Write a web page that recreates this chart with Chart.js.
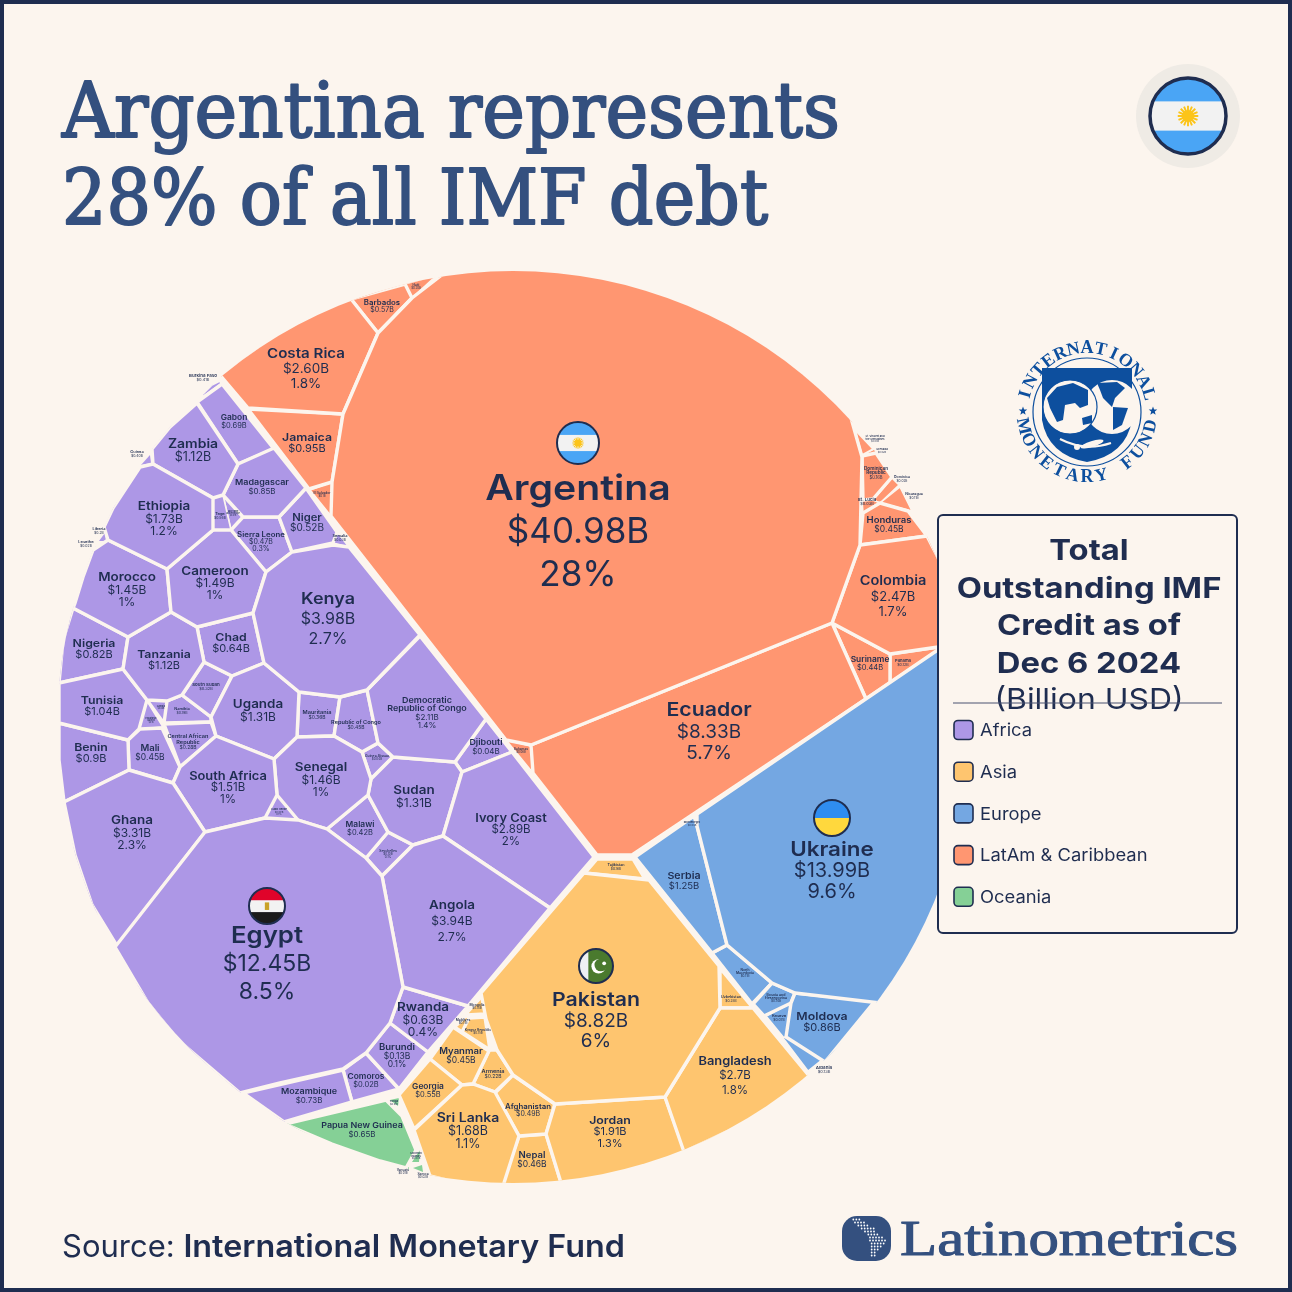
<!DOCTYPE html>
<html>
<head>
<meta charset="utf-8">
<title>Argentina represents 28% of all IMF debt</title>
<script src="https://cdn.jsdelivr.net/npm/chart.js@4"></script>
<style>
  html, body { margin: 0; padding: 0; background: #fcf5ee; }
  canvas { display: block; }
</style>
</head>
<body>
<canvas id="imfChart" width="1292" height="1292"></canvas>
<script>
// ── DATA ────────────────────────────────────────────────
const regionNames = ['Africa', 'Asia', 'Europe', 'LatAm & Caribbean', 'Oceania'];
const regionColors = ['#ad97e6', '#fec56f', '#74a7e2', '#ff9671', '#85d096'];

const africaNames = ['Egypt', 'Kenya', 'Angola', 'Ghana', 'Ivory Coast', 'Democratic Republic of Congo', 'Ethiopia', 'South Africa', 'Cameroon', 'Senegal', 'Morocco', 'Sudan', 'Uganda', 'Zambia', 'Tanzania', 'Tunisia', 'Benin', 'Madagascar', 'Nigeria', 'Gabon', 'Chad', 'Rwanda', 'Togo', 'Niger', 'Sierra Leone', 'Mali', 'Republic of Congo', 'Malawi', 'Burkina Faso', 'Guinea', 'Mauritania', 'South Sudan', 'Central African Republic', 'Liberia', 'Namibia', 'Mozambique', 'Burundi', 'Seychelles', 'Equatorial Guinea', 'Cabo Verde', 'Gambia', 'Djibouti', 'Guinea-Bissau', 'Somalia', 'Comoros', 'Lesotho', 'Sao Tome and Principe'];
const africaAmounts = ['$12.45B', '$3.98B', '$3.94B', '$3.31B', '$2.89B', '$2.11B', '$1.73B', '$1.51B', '$1.49B', '$1.46B', '$1.45B', '$1.31B', '$1.31B', '$1.12B', '$1.12B', '$1.04B', '$0.9B', '$0.85B', '$0.82B', '$0.69B', '$0.64B', '$0.63B', '$0.56B', '$0.52B', '$0.47B', '$0.45B', '$0.45B', '$0.42B', '$0.41B', '$0.40B', '$0.36B', '$0.32B', '$0.28B', '$0.2B', '$0.19B', '$0.73B', '$0.13B', '$0.10B', '$0.1B', '$0.09B', '$0.08B', '$0.04B', '$0.04B', '$0.03B', '$0.02B', '$0.02B', '$0.01B'];
const africaShares = ['8.5%', '2.7%', '2.7%', '2.3%', '2%', '1.4%', '1.2%', '1%', '1%', '1%', '1%', '', '', '', '', '', '', '', '', '', '', '0.4%', '', '', '0.3%', '', '', '', '', '', '', '', '', '', '', '', '0.1%', '0.1%', '', '0.1%', '', '', '', '', '', '', ''];

const asiaNames = ['Pakistan', 'Bangladesh', 'Jordan', 'Sri Lanka', 'Georgia', 'Afghanistan', 'Nepal', 'Myanmar', 'Uzbekistan', 'Armenia', 'Tajikistan', 'Kyrgyz Republic', 'Mongolia', 'Maldives'];
const asiaAmounts = ['$8.82B', '$2.7B', '$1.91B', '$1.68B', '$0.55B', '$0.49B', '$0.46B', '$0.45B', '$0.28B', '$0.22B', '$0.16B', '$0.15B', '$0.14B', '$0.11B'];
const asiaShares = ['6%', '1.8%', '1.3%', '1.1%', '', '', '', '', '', '', '', '', '', ''];

const europeNames = ['Ukraine', 'Serbia', 'Moldova', 'Bosnia and Herzegovina', 'Albania', 'North Macedonia', 'Kosovo', 'Montenegro'];
const europeAmounts = ['$13.99B', '$1.25B', '$0.86B', '$0.14B', '$0.13B', '$0.11B', '$0.07B', '$0.04B'];
const europeShares = ['9.6%', '', '', '', '', '', '', ''];

const latamNames = ['Argentina', 'Ecuador', 'Costa Rica', 'Colombia', 'Jamaica', 'Barbados', 'Honduras', 'Suriname', 'Haiti', 'Dominican Republic', 'Panama', 'Nicaragua', 'El Salvador', 'Bahamas', 'St. Lucia', 'St. Vincent', 'Dominica', 'Grenada'];
const latamAmounts = ['$40.98B', '$8.33B', '$2.60B', '$2.47B', '$0.95B', '$0.57B', '$0.45B', '$0.44B', '$0.20B', '$0.16B', '$0.12B', '$0.11B', '$0.1B', '$0.06B', '$0.03B', '$0.03B', '$0.02B', '$0.02B'];
const latamShares = ['28%', '5.7%', '1.8%', '1.7%', '', '', '', '', '', '', '', '', '', '', '', '', '', ''];

const oceaniaNames = ['Papua New Guinea', 'Solomon Islands', 'Samoa', 'Tonga', 'Vanuatu'];
const oceaniaAmounts = ['$0.65B', '$0.03B', '$0.02B', '$0.01B', '$0.01B'];
const oceaniaShares = ['', '', '', '', ''];

// Cell outlines, in the chart's 0-1292 units
const cellOutlines = {
  'Egypt': [[205,832],[265,818],[298,820],[327,829],[366,858],[382,876],[403,987],[390,1023],[366,1053],[343,1069],[280,1083],[240,1093],[178,1040],[148,1003],[115,947]],
  'Kenya': [[266,572],[292,552],[333,545],[349,547],[420,635],[367,690],[340,697],[299,692],[264,663],[253,613]],
  'Angola': [[413,845],[443,836],[550,908],[468,1006],[403,987],[382,876]],
  'Ghana': [[64,802],[129,770],[173,783],[205,832],[117,946],[92,905],[75,855]],
  'Ivory Coast': [[462,772],[512,752],[594,857],[550,908],[443,836]],
  'Democratic Republic of Congo': [[420,636],[486,719],[455,762],[393,757],[378,743],[367,690]],
  'Ethiopia': [[153,464],[213,498],[213,530],[167,569],[108,540],[104,527],[113,508],[140,467]],
  'South Africa': [[216,736],[274,759],[277,795],[265,818],[205,832],[173,783],[180,767]],
  'Cameroon': [[213,530],[231,530],[266,572],[253,613],[197,627],[171,612],[167,569]],
  'Senegal': [[274,759],[297,737],[334,736],[362,752],[371,779],[368,795],[327,829],[298,820],[277,795]],
  'Morocco': [[108,540],[167,569],[171,612],[128,637],[73,608],[75,603],[83,577],[93,550]],
  'Sudan': [[393,757],[455,762],[462,772],[443,836],[413,845],[388,832],[368,795],[371,779]],
  'Uganda': [[232,676],[264,663],[299,692],[297,737],[274,759],[216,736],[211,717]],
  'Zambia': [[197,403],[238,464],[223,495],[213,498],[153,464],[152,449],[170,427]],
  'Tanzania': [[128,637],[171,612],[197,627],[204,662],[182,695],[167,701],[147,700],[123,669]],
  'Tunisia': [[59,683],[123,669],[147,700],[139,729],[128,740],[59,723]],
  'Benin': [[59,723],[128,740],[129,770],[64,802],[59,760]],
  'Madagascar': [[238,464],[274,448],[306,488],[279,517],[243,517],[223,495]],
  'Nigeria': [[73,608],[128,637],[123,669],[59,683],[63,640]],
  'Gabon': [[197,402],[222,384],[274,449],[238,464]],
  'Chad': [[197,627],[253,613],[264,663],[232,676],[204,662]],
  'Rwanda': [[390,1023],[403,987],[468,1006],[428,1052]],
  'Togo': [[213,498],[223,495],[231,530],[213,530]],
  'Niger': [[306,488],[337,532],[333,543],[292,552],[279,517]],
  'Sierra Leone': [[243,517],[279,517],[292,552],[266,572],[231,530]],
  'Mali': [[140,729],[162,728],[180,767],[173,783],[129,770],[128,740]],
  'Republic of Congo': [[340,697],[367,690],[378,743],[362,752],[334,736]],
  'Malawi': [[368,795],[388,832],[366,858],[327,829]],
  'Burkina Faso': [[201,396],[212,385],[220,381],[221,384],[204,396]],
  'Guinea': [[141,465],[150,455],[151,463]],
  'Mauritania': [[299,692],[340,697],[334,736],[297,737]],
  'South Sudan': [[204,662],[232,676],[211,717],[182,695]],
  'Central African Republic': [[164,724],[211,722],[216,736],[180,767]],
  'Liberia': [[99,541],[105,533],[106,541]],
  'Namibia': [[167,701],[182,695],[211,717],[211,722],[164,723]],
  'Mozambique': [[243,1093],[343,1070],[352,1102],[284,1122]],
  'Burundi': [[366,1053],[390,1023],[428,1052],[399,1089]],
  'Seychelles': [[388,832],[413,845],[382,876],[366,858]],
  'Equatorial Guinea': [[147,701],[163,727],[139,729]],
  'Cabo Verde': [[277,795],[298,820],[265,818]],
  'Gambia': [[148,700],[167,701],[164,722]],
  'Djibouti': [[486,719],[512,752],[462,772],[455,762]],
  'Guinea-Bissau': [[378,743],[393,757],[371,779],[362,752]],
  'Somalia': [[337,532],[349,547],[333,543]],
  'Comoros': [[343,1070],[366,1053],[399,1089],[352,1102]],
  'Lesotho': [[95,548],[96,546],[97,548]],
  'Sao Tome and Principe': [[223,495],[243,517],[231,530]],

  'Pakistan': [[584,873],[649,880],[719,966],[720,1008],[665,1097],[555,1104],[513,1075],[497,1050],[486,1019],[481,993]],
  'Bangladesh': [[720,1008],[753,1008],[810,1077],[752,1120],[684,1152],[665,1097]],
  'Jordan': [[555,1104],[665,1097],[686,1155],[620,1175],[562,1186],[546,1134]],
  'Sri Lanka': [[462,1085],[473,1084],[495,1092],[519,1136],[503,1186],[470,1186],[430,1176],[414,1130]],
  'Georgia': [[430,1059],[462,1085],[414,1129],[399,1095]],
  'Afghanistan': [[495,1093],[513,1075],[555,1104],[546,1134],[519,1136]],
  'Nepal': [[519,1136],[546,1134],[562,1186],[501,1186]],
  'Myanmar': [[453,1027],[489,1051],[473,1084],[462,1085],[430,1059]],
  'Uzbekistan': [[720,968],[753,1008],[720,1008]],
  'Armenia': [[489,1050],[497,1050],[513,1075],[495,1092],[473,1084]],
  'Tajikistan': [[597,859],[633,859],[645,879],[585,873]],
  'Kyrgyz Republic': [[469,1018],[485,1017],[490,1050],[462,1032]],
  'Mongolia': [[467,1014],[484,995],[485,1013]],
  'Maldives': [[456,1027],[466,1017],[470,1018],[462,1031]],

  'Ukraine': [[697,814],[945,645],[990,727],[960,900],[880,1003],[795,993],[772,983],[727,945],[697,826]],
  'Serbia': [[635,857],[694,816],[697,826],[727,945],[712,953]],
  'Moldova': [[795,993],[875,1001],[825,1062],[786,1037],[791,1003]],
  'Bosnia and Herzegovina': [[772,983],[795,993],[791,1003],[764,1016],[753,1004]],
  'Albania': [[785,1037],[823,1059],[808,1071],[783,1038]],
  'North Macedonia': [[727,945],[772,983],[752,1004],[712,953]],
  'Kosovo': [[766,1016],[791,1003],[786,1037],[784,1038]],
  'Montenegro': [[693,818],[697,816],[697,826],[696,826]],

  'Argentina': [[447,271],[412,298],[378,333],[343,414],[332,482],[331,516],[506,740],[531,745],[832,623],[860,545],[862,457],[851,418],[842,398],[745,324],[633,278],[513,262]],
  'Ecuador': [[531,745],[832,623],[866,699],[632,855],[597,855],[533,773]],
  'Costa Rica': [[220,375],[246,355],[283,329],[330,306],[351,299],[378,333],[343,414],[248,408]],
  'Colombia': [[860,545],[927,536],[960,600],[945,646],[890,654],[832,623]],
  'Jamaica': [[248,409],[343,414],[332,482],[309,489]],
  'Barbados': [[351,299],[405,284],[412,298],[378,333]],
  'Honduras': [[863,513],[880,503],[908,511],[927,536],[860,545]],
  'Suriname': [[832,623],[890,654],[890,683],[866,699]],
  'Haiti': [[405,284],[437,275],[412,298]],
  'Dominican Republic': [[862,456],[876,453],[892,477],[873,499],[863,500]],
  'Panama': [[890,654],[945,646],[890,683]],
  'Nicaragua': [[880,503],[900,487],[912,511]],
  'El Salvador': [[310,490],[332,482],[331,516]],
  'Bahamas': [[506,740],[531,746],[533,773]],
  'St. Lucia': [[862,500],[873,500],[880,503],[863,513]],
  'St. Vincent': [[855,430],[873,449],[862,455]],
  'Dominica': [[873,500],[892,478],[899,485],[880,503]],
  'Grenada': [[862,456],[874,450],[876,453]],

  'Papua New Guinea': [[285,1124],[386,1100],[402,1116],[416,1150],[406,1168],[380,1161],[332,1144]],
  'Solomon Islands': [[412,1162],[420,1150],[419,1162]],
  'Samoa': [[413,1168],[422,1165],[423,1172]],
  'Tonga': [[390,1100],[399,1098],[398,1106]],
  'Vanuatu': [[407,1168],[409,1167],[409,1169]]
};

// Where each label block sits: centre x, centre y, type size
const labelSpots = {
  'Egypt': [267,964,23], 'Kenya': [328,619,16], 'Angola': [452,921,12], 'Ghana': [132,833,12],
  'Ivory Coast': [511,830,11.5], 'Democratic Republic of Congo': [427,713,8], 'Ethiopia': [164,519,12],
  'South Africa': [228,788,11.5], 'Cameroon': [215,583,12], 'Senegal': [321,780,12], 'Morocco': [127,590,12],
  'Sudan': [414,797,12], 'Uganda': [258,711,12], 'Zambia': [193,451,12.5], 'Tanzania': [164,660,11],
  'Tunisia': [102,706,11], 'Benin': [91,753,11], 'Madagascar': [262,487,8], 'Nigeria': [94,649,11],
  'Gabon': [234,422,7.5], 'Chad': [231,643,11], 'Rwanda': [423,1020,12], 'Togo': [220,516,3.5],
  'Niger': [307,523,10], 'Sierra Leone': [261,542,7], 'Mali': [150,753,8.5], 'Republic of Congo': [356,725,5],
  'Malawi': [360,829,7.5], 'Burkina Faso': [203,378,4], 'Guinea': [137,454,3.5], 'Mauritania': [317,715,5],
  'South Sudan': [206,687,4], 'Central African Republic': [188,742,5], 'Liberia': [99,531,3.5], 'Namibia': [182,711,3.5],
  'Mozambique': [309,1096,8], 'Burundi': [397,1056,8.5], 'Seychelles': [388,854,3], 'Equatorial Guinea': [151,720,2],
  'Cabo Verde': [279,812,2.5], 'Gambia': [161,707,2], 'Djibouti': [486,747,8], 'Guinea-Bissau': [377,758,3],
  'Somalia': [340,538,3.5], 'Comoros': [366,1081,7.5], 'Lesotho': [86,544,3.5], 'Sao Tome and Principe': [233,513,2],

  'Pakistan': [596,1021,19], 'Bangladesh': [735,1076,11.5], 'Jordan': [610,1132,11], 'Sri Lanka': [468,1131,12.5],
  'Georgia': [428,1091,7.5], 'Afghanistan': [528,1110,7], 'Nepal': [532,1160,8.5], 'Myanmar': [461,1056,8.5],
  'Uzbekistan': [731,999,3.3], 'Armenia': [493,1074,5], 'Tajikistan': [616,867,3.3], 'Kyrgyz Republic': [478,1032,3],
  'Mongolia': [477,1007,3], 'Maldives': [463,1022,3],

  'Ukraine': [832,871,20], 'Serbia': [684,881,9.5], 'Moldova': [822,1022,11], 'Bosnia and Herzegovina': [776,998,3.2],
  'Albania': [824,1070,4], 'North Macedonia': [745,973,3], 'Kosovo': [779,1018,3.5], 'Montenegro': [692,824,2.5],

  'Argentina': [578,532,35], 'Ecuador': [709,732,19], 'Costa Rica': [306,369,13.5], 'Colombia': [893,597,13],
  'Jamaica': [307,443,11], 'Barbados': [382,306,7], 'Honduras': [889,525,8.5], 'Suriname': [870,664,7.5],
  'Haiti': [416,287,2.8], 'Dominican Republic': [876,473,4.2], 'Panama': [903,663,3.7], 'Nicaragua': [914,496,3.2],
  'El Salvador': [322,495,2.8], 'Bahamas': [521,751,2.8], 'St. Lucia': [867,502,4], 'St. Vincent': [875,439,2.3],
  'Dominica': [902,479,3.2], 'Grenada': [882,451,2.5],

  'Papua New Guinea': [362,1130,8], 'Solomon Islands': [416,1156,2.5], 'Samoa': [423,1176,3], 'Tonga': [394,1103,2.5], 'Vanuatu': [403,1172,2.8]
};

// Line spacing where a label block is looser than its type size
const labelSteps = {
  'Argentina': 43, 'Egypt': 28, 'Ukraine': 21, 'Pakistan': 20.5, 'Ecuador': 21.5, 'Kenya': 20,
  'Angola': 16, 'Costa Rica': 15, 'Colombia': 15.5, 'Bangladesh': 14.5, 'Uganda': 13, 'Sudan': 13,
  'Ethiopia': 12.5, 'Ghana': 12.5, 'Senegal': 12.5, 'Cameroon': 12
};

const nameBreaks = {
  'Democratic Republic of Congo': ['Democratic', 'Republic of Congo'],
  'Central African Republic': ['Central African', 'Republic'],
  'Dominican Republic': ['Dominican', 'Republic'],
  'North Macedonia': ['North', 'Macedonia'],
  'Bosnia and Herzegovina': ['Bosnia and', 'Herzegovina'],
  'Solomon Islands': ['Solomon', 'Islands'],
  'St. Vincent': ['St. Vincent and', 'the Grenadines'],
  'Sao Tome and Principe': ['Sao Tome', 'and Principe'],
  'Equatorial Guinea': ['Equatorial', 'Guinea']
};

const legendTitle = ['Total', 'Outstanding IMF', 'Credit as of', 'Dec 6 2024'];
const legendUnit = '(Billion USD)';

// ── LOOK ────────────────────────────────────────────────
const CREAM = '#fcf5ee';
const NAVY = '#1f2d50';
const SLATE = '#34507f';
const LABEL_FONT = 'Inter, "Noto Sans", sans-serif';
const TITLE_FONT = '"DejaVu Serif", serif';
const CENTER_X = 513, CENTER_Y = 727, RADIUS = 456;

const groups = [
  [africaNames, africaAmounts, africaShares],
  [asiaNames, asiaAmounts, asiaShares],
  [europeNames, europeAmounts, europeShares],
  [latamNames, latamAmounts, latamShares],
  [oceaniaNames, oceaniaAmounts, oceaniaShares]
];

function outlineArea(pts) {
  let sum = 0;
  pts.forEach((p, i) => {
    const q = pts[(i + 1) % pts.length];
    sum += p[0] * q[1] - q[0] * p[1];
  });
  return Math.abs(sum) / 2;
}

// Build one closed scatter line per country
const datasets = [];
groups.forEach((group, r) => {
  group[0].forEach(name => {
    const pts = cellOutlines[name];
    const area = outlineArea(pts);
    datasets.push({
      label: name,
      data: pts.concat([pts[0]]).map(p => ({ x: p[0], y: p[1] })),
      showLine: true,
      fill: 'shape',
      backgroundColor: regionColors[r],
      borderColor: CREAM,
      borderWidth: area < 60 ? 0 : area < 500 ? 1.6 : 3.4,
      borderJoinStyle: 'round',
      pointRadius: 0,
      tension: 0,
      clip: false
    });
  });
});

// Squeeze a line of text into a known width, optionally thickened
function fitText(ctx, text, x, y, font, width, color, thicken) {
  ctx.save();
  ctx.font = font;
  ctx.fillStyle = color;
  ctx.textAlign = 'left';
  ctx.textBaseline = 'alphabetic';
  const w = ctx.measureText(text).width;
  ctx.translate(x, y);
  ctx.scale(width / w, 1);
  ctx.fillText(text, 0, 0);
  if (thicken) {
    ctx.strokeStyle = color;
    ctx.lineWidth = thicken;
    ctx.lineJoin = 'round';
    ctx.strokeText(text, 0, 0);
  }
  ctx.restore();
}

// Inter runs narrower than the reference's face, so stretch it a little
function wideText(ctx, text, x, y, stretch) {
  ctx.save();
  ctx.translate(x, y);
  ctx.scale(stretch, 1);
  ctx.fillText(text, 0, 0);
  ctx.restore();
}

function flagDisc(ctx, x, y, r, paint) {
  ctx.save();
  ctx.beginPath();
  ctx.arc(x, y, r, 0, Math.PI * 2);
  ctx.save();
  ctx.clip();
  paint();
  ctx.restore();
  ctx.beginPath();
  ctx.arc(x, y, r, 0, Math.PI * 2);
  ctx.strokeStyle = NAVY;
  ctx.lineWidth = r > 30 ? 3.5 : 2;
  ctx.stroke();
  ctx.restore();
}

function argentinaFlag(ctx, x, y, r) {
  flagDisc(ctx, x, y, r, () => {
    ctx.fillStyle = '#4aa5f5';
    ctx.fillRect(x - r, y - r, r * 2, r * 2);
    ctx.fillStyle = '#f2f2f2';
    ctx.fillRect(x - r, y - r / 2.6, r * 2, r / 1.3);
    ctx.strokeStyle = '#fcc419';
    ctx.lineWidth = r * 0.05;
    for (let i = 0; i < 16; i++) {
      const a = i * Math.PI / 8;
      ctx.beginPath();
      ctx.moveTo(x, y);
      ctx.lineTo(x + Math.cos(a) * r * 0.27, y + Math.sin(a) * r * 0.27);
      ctx.stroke();
    }
    ctx.fillStyle = '#fcc419';
    ctx.beginPath();
    ctx.arc(x, y, r * 0.16, 0, Math.PI * 2);
    ctx.fill();
  });
}

function egyptFlag(ctx, x, y, r) {
  flagDisc(ctx, x, y, r, () => {
    ctx.fillStyle = '#e0032a';
    ctx.fillRect(x - r, y - r, r * 2, r * 0.72);
    ctx.fillStyle = '#f2f2f2';
    ctx.fillRect(x - r, y - r * 0.32, r * 2, r * 0.68);
    ctx.fillStyle = '#1a1a1a';
    ctx.fillRect(x - r, y + r * 0.34, r * 2, r);
    ctx.fillStyle = '#c9a227';
    ctx.fillRect(x - r * 0.12, y - r * 0.2, r * 0.24, r * 0.42);
  });
}

function ukraineFlag(ctx, x, y, r) {
  flagDisc(ctx, x, y, r, () => {
    ctx.fillStyle = '#2f8df0';
    ctx.fillRect(x - r, y - r, r * 2, r);
    ctx.fillStyle = '#ffd83d';
    ctx.fillRect(x - r, y, r * 2, r);
  });
}

function pakistanFlag(ctx, x, y, r) {
  flagDisc(ctx, x, y, r, () => {
    ctx.fillStyle = '#4a7a2e';
    ctx.fillRect(x - r, y - r, r * 2, r * 2);
    ctx.fillStyle = '#eef0f4';
    ctx.fillRect(x - r, y - r, r * 0.55, r * 2);
    ctx.fillStyle = '#fff';
    ctx.beginPath();
    ctx.arc(x + r * 0.15, y + r * 0.02, r * 0.42, 0, Math.PI * 2);
    ctx.fill();
    ctx.fillStyle = '#4a7a2e';
    ctx.beginPath();
    ctx.arc(x + r * 0.28, y - r * 0.06, r * 0.37, 0, Math.PI * 2);
    ctx.fill();
    ctx.fillStyle = '#fff';
    ctx.beginPath();
    ctx.arc(x + r * 0.48, y - r * 0.16, r * 0.11, 0, Math.PI * 2);
    ctx.fill();
  });
}

function arcText(ctx, text, cx, cy, r, from, to, bottom) {
  const n = text.length;
  text.split('').forEach((ch, i) => {
    const a = from + (to - from) * i / (n - 1);
    ctx.save();
    ctx.translate(cx + Math.cos(a) * r, cy + Math.sin(a) * r);
    ctx.rotate(bottom ? a - Math.PI / 2 : a + Math.PI / 2);
    ctx.fillText(ch, 0, 0);
    ctx.restore();
  });
}

function star(ctx, x, y, r) {
  ctx.beginPath();
  for (let i = 0; i < 10; i++) {
    const a = -Math.PI / 2 + i * Math.PI / 5;
    const rr = i % 2 ? r * 0.42 : r;
    ctx.lineTo(x + Math.cos(a) * rr, y + Math.sin(a) * rr);
  }
  ctx.closePath();
  ctx.fill();
}

function blob(ctx, pts) {
  ctx.beginPath();
  pts.forEach(p => ctx.lineTo(p[0], p[1]));
  ctx.closePath();
  ctx.fill();
}

// IMF seal
function drawSeal(ctx) {
  const cx = 1087, cy = 412, blue = '#0d4f9e';
  ctx.save();
  ctx.fillStyle = blue;
  ctx.font = 'bold 18px "Liberation Serif", serif';
  ctx.textAlign = 'center';
  ctx.textBaseline = 'alphabetic';
  arcText(ctx, 'INTERNATIONAL', cx, cy, 59, -Math.PI * 0.91, -Math.PI * 0.09, false);
  arcText(ctx, 'MONETARY FUND', cx, cy, 70, Math.PI * 0.93, Math.PI * 0.07, true);
  star(ctx, 1023, 411, 4.5);
  star(ctx, 1153, 411, 4.5);

  ctx.strokeStyle = blue;
  ctx.lineWidth = 1.2;
  ctx.beginPath();
  ctx.arc(cx, cy, 54, 0, Math.PI * 2);
  ctx.stroke();

  ctx.beginPath();
  ctx.moveTo(1042, 368);
  ctx.lineTo(1132, 368);
  ctx.lineTo(1132, 420);
  ctx.quadraticCurveTo(1126, 455, 1087, 462);
  ctx.quadraticCurveTo(1048, 455, 1042, 420);
  ctx.closePath();
  ctx.fill();

  ctx.fillStyle = CREAM;
  ctx.beginPath();
  ctx.arc(1070, 407, 27, 0, Math.PI * 2);
  ctx.arc(1112, 407, 27, 0, Math.PI * 2);
  ctx.fill();
  ctx.strokeStyle = blue;
  ctx.beginPath();
  ctx.arc(1070, 407, 27, 0, Math.PI * 2);
  ctx.stroke();

  ctx.fillStyle = blue;
  blob(ctx, [[1047,398],[1057,387],[1073,383],[1088,390],[1088,405],[1080,408],[1075,403],[1065,405],[1063,420],[1057,422],[1050,408]]);
  blob(ctx, [[1082,418],[1092,415],[1092,423],[1083,425]]);
  blob(ctx, [[1097,383],[1117,382],[1125,388],[1115,398],[1112,407],[1103,398],[1100,390]]);
  blob(ctx, [[1113,407],[1128,408],[1122,425],[1113,430]]);

  ctx.strokeStyle = CREAM;
  ctx.lineWidth = 2;
  ctx.beginPath();
  ctx.moveTo(1060, 439);
  ctx.quadraticCurveTo(1085, 452, 1111, 443);
  ctx.stroke();
  ctx.fillStyle = CREAM;
  ctx.beginPath();
  ctx.ellipse(1092, 444, 12, 3, -0.3, 0, Math.PI * 2);
  ctx.ellipse(1077, 447, 3, 3, 0, 0, Math.PI * 2);
  ctx.fill();
  ctx.restore();
}

// Latinometrics wordmark with its little dotted map
function drawLogo(ctx) {
  const dotRows = [[100,125],[105,135],[115,145],[125,165],[135,170],[145,180],[150,190],[150,200],[155,195],[155,185],[155,175],[155,170],[155,165]];
  ctx.save();
  ctx.fillStyle = SLATE;
  ctx.beginPath();
  ctx.roundRect(842, 1216, 49, 45, 15);
  ctx.fill();
  ctx.fillStyle = '#fff';
  dotRows.forEach((row, i) => {
    for (let zx = row[0]; zx <= row[1]; zx += 9) {
      ctx.beginPath();
      ctx.arc(820 + zx / 3, 1219.5 + i * 3, 0.9, 0, Math.PI * 2);
      ctx.fill();
    }
  });
  ctx.restore();
  fitText(ctx, 'Latinometrics', 900, 1255, '50px "Liberation Serif", serif', 338, SLATE, 1);
}

// Legend panel sits on top of the circle
function drawLegend(ctx) {
  ctx.save();
  ctx.fillStyle = CREAM;
  ctx.strokeStyle = NAVY;
  ctx.lineWidth = 2;
  ctx.beginPath();
  ctx.roundRect(938, 515, 299, 418, 5);
  ctx.fill();
  ctx.stroke();

  ctx.fillStyle = NAVY;
  ctx.textAlign = 'center';
  ctx.textBaseline = 'alphabetic';
  ctx.font = '700 29px ' + LABEL_FONT;
  legendTitle.forEach((line, i) => wideText(ctx, line, 1089, 560 + i * 37.7, 1.13));
  ctx.font = '400 29px ' + LABEL_FONT;
  wideText(ctx, legendUnit, 1089, 709, 1.1);

  ctx.strokeStyle = '#4a5370';
  ctx.lineWidth = 1;
  ctx.beginPath();
  ctx.moveTo(953, 703);
  ctx.lineTo(1222, 703);
  ctx.stroke();

  ctx.textAlign = 'left';
  ctx.textBaseline = 'middle';
  ctx.font = '400 17px ' + LABEL_FONT;
  regionNames.forEach((name, i) => {
    const y = 730 + i * 41.7;
    ctx.beginPath();
    ctx.roundRect(954, y - 9.5, 19, 19, 4);
    ctx.fillStyle = regionColors[i];
    ctx.fill();
    ctx.strokeStyle = NAVY;
    ctx.lineWidth = 1.6;
    ctx.stroke();
    ctx.fillStyle = NAVY;
    wideText(ctx, name, 980, y + 1, 1.08);
  });
  ctx.restore();
}

const pagePlugin = {
  id: 'page',
  beforeDraw(chart) {
    const ctx = chart.ctx;
    ctx.save();
    ctx.fillStyle = CREAM;
    ctx.fillRect(0, 0, chart.width, chart.height);
    ctx.strokeStyle = NAVY;
    ctx.lineWidth = 8;
    ctx.strokeRect(0, 0, chart.width, chart.height);
    ctx.restore();

    fitText(ctx, 'Argentina represents', 62, 137, '500 76px ' + TITLE_FONT, 778, SLATE, 2);
    fitText(ctx, '28% of all IMF debt', 62, 224, '500 76px ' + TITLE_FONT, 706, SLATE, 2);

    ctx.save();
    ctx.fillStyle = '#efebe5';
    ctx.beginPath();
    ctx.arc(1188, 116, 52, 0, Math.PI * 2);
    ctx.fill();
    ctx.restore();
    argentinaFlag(ctx, 1188, 116, 38);
    drawSeal(ctx);

    ctx.save();
    ctx.fillStyle = NAVY;
    ctx.textBaseline = 'alphabetic';
    ctx.font = '400 31px ' + LABEL_FONT;
    ctx.fillText('Source: ', 62, 1257);
    const w = ctx.measureText('Source: ').width;
    ctx.restore();
    fitText(ctx, 'International Monetary Fund', 62 + w, 1257, '600 31px ' + LABEL_FONT, 625 - 62 - w, NAVY);
    drawLogo(ctx);
  },
  // Keep the cells inside the big circle
  beforeDatasetsDraw(chart) {
    const { ctx, scales } = chart;
    ctx.save();
    ctx.beginPath();
    ctx.arc(scales.x.getPixelForValue(CENTER_X), scales.y.getPixelForValue(CENTER_Y), RADIUS, 0, Math.PI * 2);
    ctx.clip();
  },
  afterDatasetsDraw(chart) {
    const { ctx, scales } = chart;
    ctx.restore();

    ctx.save();
    ctx.textAlign = 'center';
    ctx.textBaseline = 'middle';
    ctx.fillStyle = NAVY;
    groups.forEach(group => {
      group[0].forEach((name, i) => {
        const spot = labelSpots[name];
        const size = spot[2];
        const nameLines = nameBreaks[name] || [name];
        const lines = nameLines.map(t => [t, 600, 1.12]).concat([[group[1][i], 400, 1]]);
        if (group[2][i]) lines.push([group[2][i], 400, 1]);
        const step = labelSteps[name] || size * 1.03;
        let y = scales.y.getPixelForValue(spot[1]) - step * (lines.length - 1) / 2;
        const x = scales.x.getPixelForValue(spot[0]);
        lines.forEach(line => {
          ctx.font = line[1] + ' ' + size + 'px ' + LABEL_FONT;
          wideText(ctx, line[0], x, y, line[2]);
          y += step;
        });
      });
    });
    ctx.restore();

    argentinaFlag(ctx, 578, 443, 21);
    egyptFlag(ctx, 267, 906, 18);
    ukraineFlag(ctx, 832, 818, 18);
    pakistanFlag(ctx, 596, 966, 17);
    drawLegend(ctx);
  }
};

new Chart(document.getElementById('imfChart'), {
  type: 'scatter',
  data: { datasets },
  plugins: [pagePlugin],
  options: {
    responsive: false,
    animation: false,
    devicePixelRatio: 1,
    layout: { padding: 0 },
    plugins: { legend: { display: false }, tooltip: { enabled: false } },
    scales: {
      x: { type: 'linear', min: 0, max: 1292, display: false },
      y: { type: 'linear', min: 0, max: 1292, reverse: true, display: false }
    }
  }
});
</script>
</body>
</html>
